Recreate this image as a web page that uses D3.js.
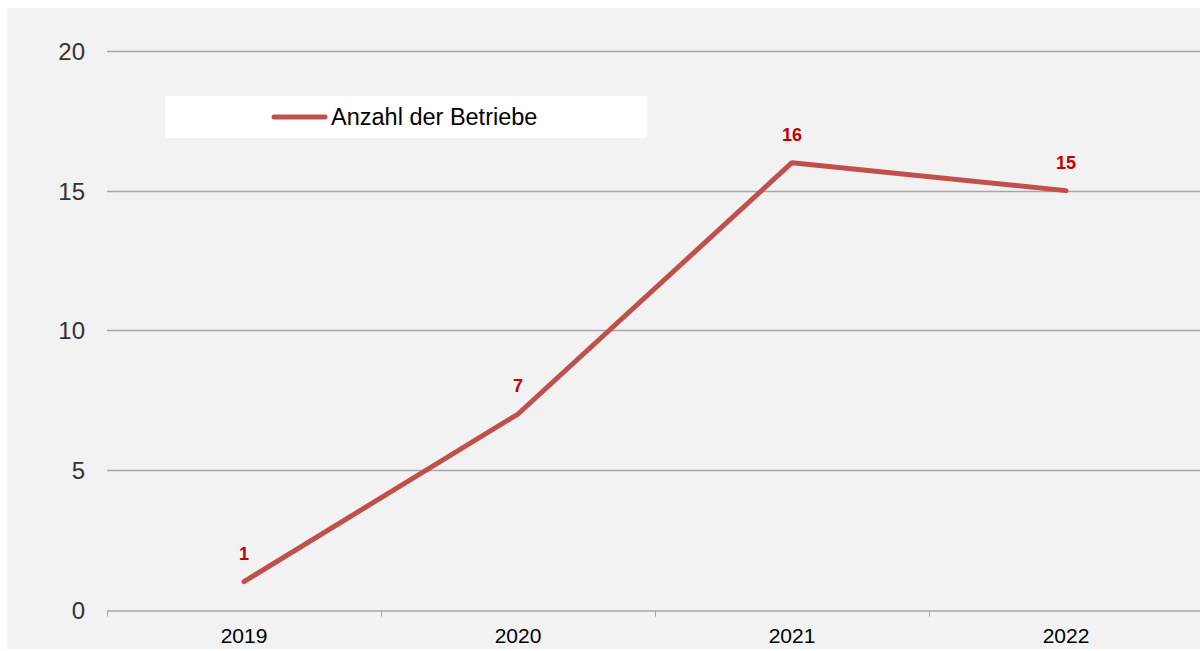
<!DOCTYPE html>
<html>
<head>
<meta charset="utf-8">
<style>
  body { margin: 0; background: #fff; }
  text { font-family: Arial, "Liberation Sans", sans-serif; }
  .grid line { stroke: #a6a6a6; stroke-width: 1.3px; }
</style>
</head>
<body>
<div id="chart"></div>
<script src="https://cdn.jsdelivr.net/npm/d3@7"></script>
<script>
var years = ["2019", "2020", "2021", "2022"];
var betriebe = [1, 7, 16, 15];
var yTicks = [0, 5, 10, 15, 20];
var seriesName = "Anzahl der Betriebe";

var width = 1200, height = 651;
var svg = d3.select("#chart").append("svg")
  .attr("width", width)
  .attr("height", height);

// panel
svg.append("rect")
  .attr("x", 7).attr("y", 8)
  .attr("width", width - 7).attr("height", 641)
  .attr("fill", "#f2f2f2");

var x = d3.scaleBand().domain(years).range([107, 1203]);
var y = d3.scaleLinear().domain([0, 20]).range([609.5, 51]);

// gridlines
svg.append("g").attr("class", "grid")
  .selectAll("line").data(yTicks.filter(function (d) { return d > 0; }))
  .enter().append("line")
  .attr("x1", 107).attr("x2", width)
  .attr("y1", function (d) { return Math.round(y(d)) + 0.5; })
  .attr("y2", function (d) { return Math.round(y(d)) + 0.5; });

// y labels
svg.append("g").selectAll("text").data(yTicks)
  .enter().append("text")
  .attr("x", 85)
  .attr("y", function (d) { return y(d) + 9; })
  .attr("text-anchor", "end")
  .attr("font-size", "24px")
  .attr("fill", "#333")
  .text(function (d) { return d; });

// x axis
var xAxis = d3.axisBottom(x).tickSize(0).tickSizeOuter(0);
var gx = svg.append("g")
  .attr("transform", "translate(0," + (Math.round(y(0)) + 0.5) + ")")
  .call(xAxis);
gx.select(".domain").attr("stroke", "#a6a6a6").attr("stroke-width", 1.5);
gx.selectAll(".tick text")
  .attr("font-size", "21px")
  .attr("fill", "#000")
  .attr("dy", null)
  .attr("y", 32);
// tick marks at band boundaries
gx.selectAll(".sep").data(years)
  .enter().append("line")
  .attr("class", "sep")
  .attr("x1", function (d) { return Math.round(x(d)) + 0.5; })
  .attr("x2", function (d) { return Math.round(x(d)) + 0.5; })
  .attr("y1", 0).attr("y2", 6)
  .attr("stroke", "#a6a6a6").attr("stroke-width", 1);

// line
var line = d3.line()
  .x(function (d, i) { return x(years[i]) + x.bandwidth() / 2; })
  .y(function (d) { return y(d); });

svg.append("path")
  .datum(betriebe)
  .attr("d", line)
  .attr("fill", "none")
  .attr("stroke", "#c0504d")
  .attr("stroke-width", 5)
  .attr("stroke-linejoin", "round")
  .attr("stroke-linecap", "round");

// data labels
svg.append("g").selectAll("text").data(betriebe)
  .enter().append("text")
  .attr("x", function (d, i) { return x(years[i]) + x.bandwidth() / 2; })
  .attr("y", function (d) { return y(d) - 22; })
  .attr("text-anchor", "middle")
  .attr("font-size", "18px")
  .attr("font-weight", "bold")
  .attr("fill", "#c00000")
  .text(function (d) { return d; });

// legend
var legend = svg.append("g");
legend.append("rect")
  .attr("x", 165).attr("y", 96)
  .attr("width", 482).attr("height", 42)
  .attr("fill", "#fff");
legend.append("line")
  .attr("x1", 274).attr("x2", 325)
  .attr("y1", 117).attr("y2", 117)
  .attr("stroke", "#c0504d")
  .attr("stroke-width", 5)
  .attr("stroke-linecap", "round");
legend.append("text")
  .attr("x", 331).attr("y", 125)
  .attr("font-size", "23.5px")
  .attr("fill", "#000")
  .text(seriesName);
</script>
</body>
</html>
